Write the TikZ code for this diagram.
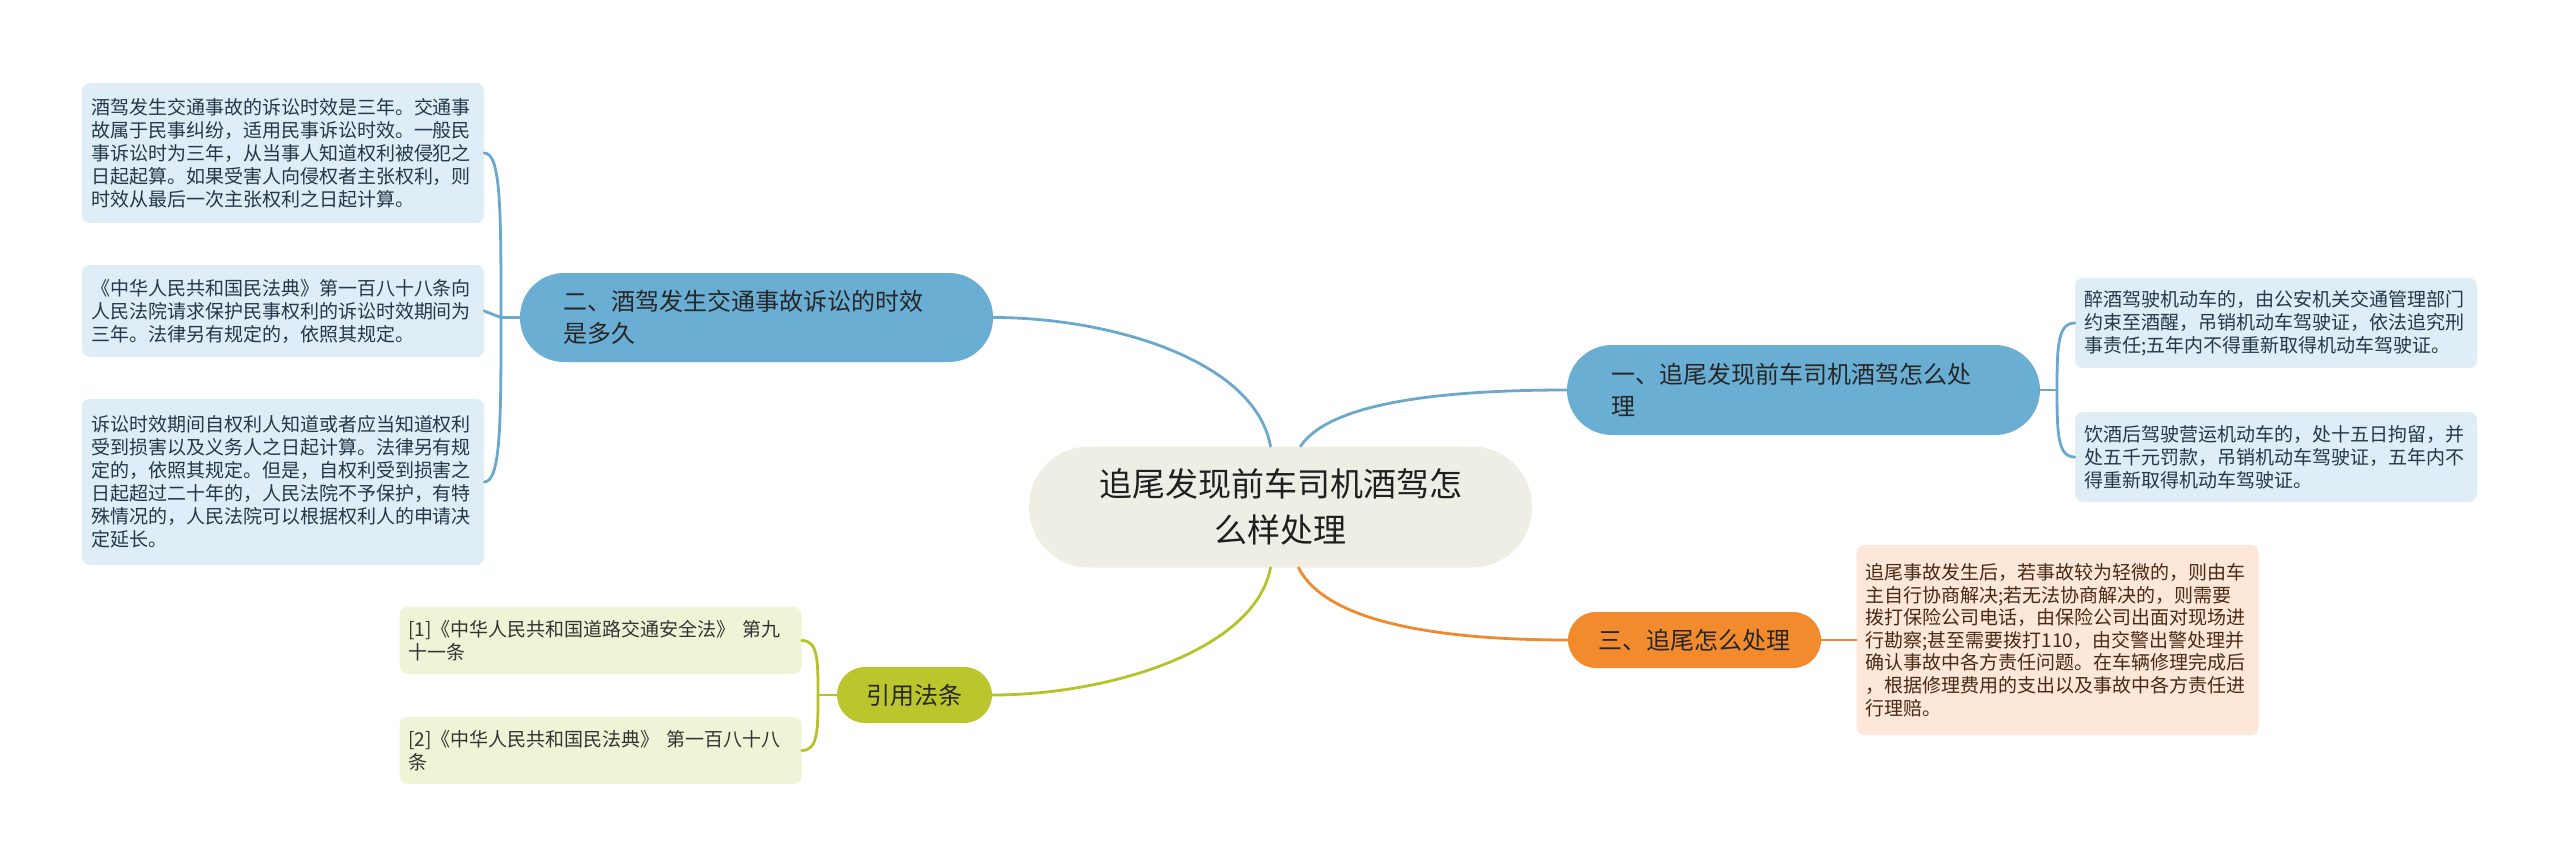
\documentclass[tikz,border=0pt]{standalone}
\usepackage{fontspec}
\setmainfont{Noto Sans CJK SC}
\usetikzlibrary{calc}
\definecolor{bluebr}{HTML}{6BAED3}
\definecolor{blueleaf}{HTML}{DEEDF6}
\definecolor{blueline}{HTML}{6AA9CB}
\definecolor{centerfill}{HTML}{EEEEE5}
\definecolor{orangebr}{HTML}{F28B2E}
\definecolor{orangeleaf}{HTML}{FCE7D9}
\definecolor{orangeline}{HTML}{EE8A2E}
\definecolor{greenbr}{HTML}{BAC62B}
\definecolor{greenleaf}{HTML}{F1F3D6}
\definecolor{greenline}{HTML}{B5C22A}
\definecolor{leaftext}{HTML}{23394A}
\definecolor{orangetext}{HTML}{4A2A12}
\begin{document}
\begin{tikzpicture}[x=1pt,y=-1pt,
  centernode/.style={fill=centerfill, rounded corners=60pt, minimum width=503pt, minimum height=121pt,
    inner sep=0pt, align=center, font=\fontsize{33pt}{46pt}\selectfont, text=black!88},
  branchnode/.style={rounded corners=#1, inner ysep=0pt, align=left,
    font=\fontsize{24pt}{32pt}\selectfont, text=black!85},
  leafnode/.style={rounded corners=8pt, inner xsep=9pt, inner ysep=0pt, text width=384pt, align=left,
    minimum width=400pt, font=\fontsize{19pt}{23pt}\selectfont},
  conn/.style={line width=2.8pt, line cap=round}
]
\useasboundingbox (0,0) rectangle (2560,867);

% center
\node[centernode] (c) at (1280.5,507) {追尾发现前车司机酒驾怎\\么样处理};

% branches
\node[branchnode=44pt, fill=bluebr, inner xsep=43pt, text width=387pt, minimum height=89pt] (b2) at (756.5,317.5)
  {二、酒驾发生交通事故诉讼的时效\\是多久};
\node[branchnode=45pt, fill=bluebr, inner xsep=44pt, text width=385pt, minimum height=90pt] (b1) at (1803.5,390)
  {一、追尾发现前车司机酒驾怎么处\\理};
\node[branchnode=28pt, fill=orangebr, inner xsep=0pt, minimum width=253pt, minimum height=56pt, align=center] (b3) at (1694.5,640)
  {三、追尾怎么处理};
\node[branchnode=28pt, fill=greenbr, inner xsep=0pt, minimum width=155pt, minimum height=56pt, align=center] (b4) at (914.5,695)
  {引用法条};

% left leaves
\node[leafnode, fill=blueleaf, text=leaftext, minimum height=140pt] (l1) at (283,153)
  {酒驾发生交通事故的诉讼时效是三年。交通事\\故属于民事纠纷，适用民事诉讼时效。一般民\\事诉讼时为三年，从当事人知道权利被侵犯之\\日起起算。如果受害人向侵权者主张权利，则\\时效从最后一次主张权利之日起计算。};
\node[leafnode, fill=blueleaf, text=leaftext, minimum height=92pt] (l2) at (283,311)
  {《中华人民共和国民法典》第一百八十八条向\\人民法院请求保护民事权利的诉讼时效期间为\\三年。法律另有规定的，依照其规定。};
\node[leafnode, fill=blueleaf, text=leaftext, minimum height=166pt] (l3) at (283,482)
  {诉讼时效期间自权利人知道或者应当知道权利\\受到损害以及义务人之日起计算。法律另有规\\定的，依照其规定。但是，自权利受到损害之\\日起超过二十年的，人民法院不予保护，有特\\殊情况的，人民法院可以根据权利人的申请决\\定延长。};

% right leaves
\node[leafnode, fill=blueleaf, text=leaftext, minimum height=90pt] (r1) at (2276,323)
  {醉酒驾驶机动车的，由公安机关交通管理部门\\约束至酒醒，吊销机动车驾驶证，依法追究刑\\事责任;五年内不得重新取得机动车驾驶证。};
\node[leafnode, fill=blueleaf, text=leaftext, minimum height=90pt] (r2) at (2276,457)
  {饮酒后驾驶营运机动车的，处十五日拘留，并\\处五千元罚款，吊销机动车驾驶证，五年内不\\得重新取得机动车驾驶证。};

% orange leaf
\node[leafnode, fill=orangeleaf, text=orangetext, minimum width=401pt, minimum height=190pt, font=\fontsize{19pt}{22.6pt}\selectfont] (o1) at (2057.5,640)
  {追尾事故发生后，若事故较为轻微的，则由车\\主自行协商解决;若无法协商解决的，则需要\\拨打保险公司电话，由保险公司出面对现场进\\行勘察;甚至需要拨打110，由交警出警处理并\\确认事故中各方责任问题。在车辆修理完成后\\，根据修理费用的支出以及事故中各方责任进\\行理赔。};

% green leaves
\node[leafnode, fill=greenleaf, text=black!80, minimum width=401pt, minimum height=67pt] (g1) at (600.5,640.5)
  {[1]《中华人民共和国道路交通安全法》 第九\\十一条};
\node[leafnode, fill=greenleaf, text=black!80, minimum width=401pt, minimum height=67pt] (g2) at (600.5,750.5)
  {[2]《中华人民共和国民法典》 第一百八十八\\条};

% center connectors
\draw[conn, blueline] ([xshift=-10pt]c.north) .. controls (1255,360) and (1110,317.5) .. (b2.east);
\draw[conn, blueline] ([xshift=20pt]c.north) .. controls (1328,405) and (1430,390) .. (b1.west);
\draw[conn, greenline] ([xshift=-10pt]c.south) .. controls (1255,650) and (1110,695) .. (b4.east);
\draw[conn, orangeline] ([xshift=18pt]c.south) .. controls (1325,620) and (1430,640) .. (b3.west);

% left bracket
\coordinate (kl) at (501,317.5);
\draw[conn, blueline] (b2.west) -- (kl);
\draw[conn, blueline] (kl) .. controls (501,210) and (501,153) .. (l1.east);
\draw[conn, blueline] (kl) -- (l2.east);
\draw[conn, blueline] (kl) .. controls (501,420) and (501,482) .. (l3.east);

% right bracket
\coordinate (kr) at (2057,390);
\draw[conn, blueline] (b1.east) -- (kr);
\draw[conn, blueline] (kr) .. controls (2057,345) and (2058,323) .. (r1.west);
\draw[conn, blueline] (kr) .. controls (2057,435) and (2058,457) .. (r2.west);

% orange
\draw[conn, orangeline] (b3.east) -- (o1.west);

% green bracket
\coordinate (kg) at (818,695);
\draw[conn, greenline] (b4.west) -- (kg);
\draw[conn, greenline] (kg) .. controls (818,660) and (818,640.5) .. (g1.east);
\draw[conn, greenline] (kg) .. controls (818,730) and (818,750.5) .. (g2.east);
\end{tikzpicture}
\end{document}
